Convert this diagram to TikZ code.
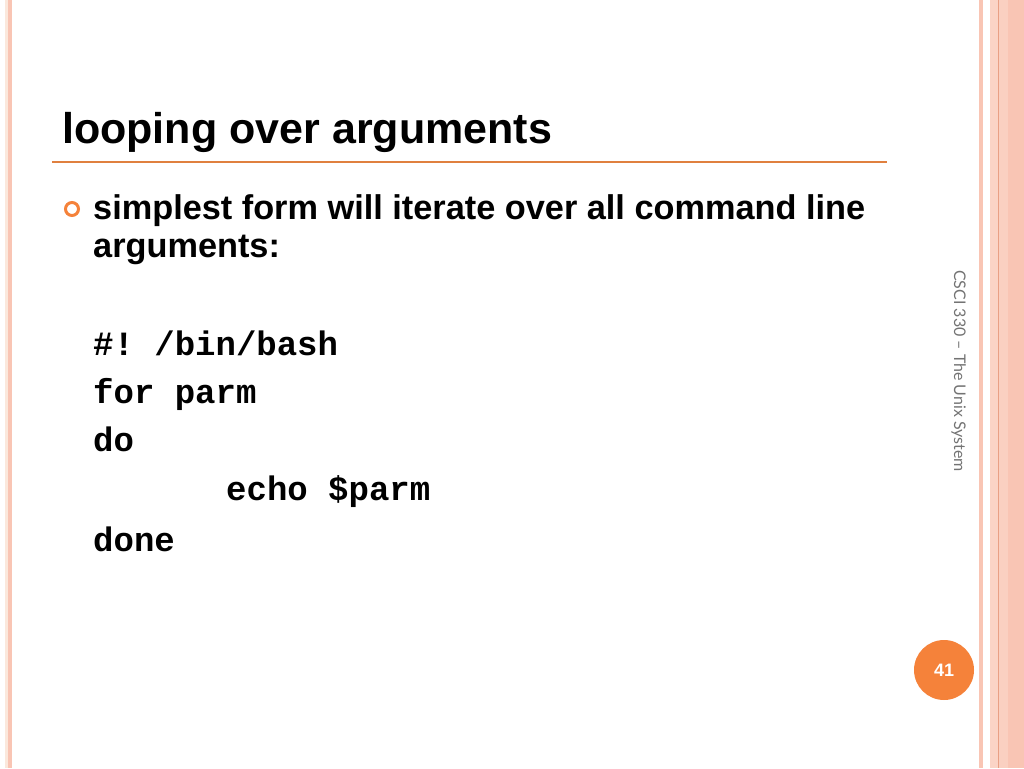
\documentclass[tikz,border=0pt]{standalone}
\usepackage{fontspec}
\setmainfont{Liberation Sans}
\setmonofont{Liberation Mono}
\newfontfamily\footfont[Ligatures=TeX]{Lato}
\usepackage{xcolor}
\usetikzlibrary{positioning}

\definecolor{rule}{HTML}{E0803F}
\definecolor{dot}{HTML}{F5823A}
\definecolor{stripe}{HTML}{F9C5B4}
\definecolor{stripelight}{HTML}{FBD4C6}
\definecolor{stripedark}{HTML}{E9A085}
\definecolor{cream}{HTML}{FBE8DC}

\tikzset{
	title/.style={anchor=base west,inner sep=0pt,font=\fontsize{43}{50}\selectfont\bfseries},
	body/.style={anchor=base west,inner sep=0pt,font=\fontsize{34.3}{40}\selectfont\bfseries},
	code/.style={anchor=base west,inner sep=0pt,font=\fontsize{34}{40}\selectfont\ttfamily\bfseries}
}

\begin{document}
\begin{tikzpicture}[x=1pt,y=-1pt]
	\useasboundingbox (0,0) rectangle (1024,768);
	% side stripes
	\fill[cream] (5,0) rectangle (8,768);
	\fill[stripe] (8,0) rectangle (12,768);
	\fill[stripe] (979,0) rectangle (983,768);
	\fill[stripelight] (990,0) rectangle (998,768);
	\fill[stripelight!70!stripe] (999,0) rectangle (1008,768);
	\fill[stripe] (1008,0) rectangle (1024,768);
	\draw[stripedark,line width=1pt] (998.5,0) -- (998.5,768);

	\node[title] (titel) at (62,143) {looping over arguments};
	\coordinate (r1) at (52,162);
	\coordinate (r2) at (887,162);
	\draw[rule,line width=1.6pt] (r1) -- (r2);

	\draw[dot,line width=3pt] (72,209) circle (6.5pt);
	\node[body] (b1) at (93,219) {simplest form will iterate over all command line};
	\node[body] (b2) at (93,257) {arguments:};

	\node[code] (c1) at (93,355) {\#! /bin/bash};
	\node[code] (c2) at (93,403) {for parm};
	\node[code] (c3) at (93,451) {do};
	\node[code] (c4) at (226,500) {echo \$parm};
	\node[code] (c5) at (93,551) {done};

	\node[anchor=base west,inner sep=0pt,rotate=-90,text=black!55,font=\footfont\fontsize{16}{18}\selectfont] (fuss) at (954,270) {CSCI 330 \textendash{} The Unix System};

	\node[circle,fill=dot,minimum size=60pt,inner sep=0pt,text=white,font=\fontsize{18}{20}\selectfont\bfseries] (seite) at (944,670) {41};
\end{tikzpicture}
\end{document}
